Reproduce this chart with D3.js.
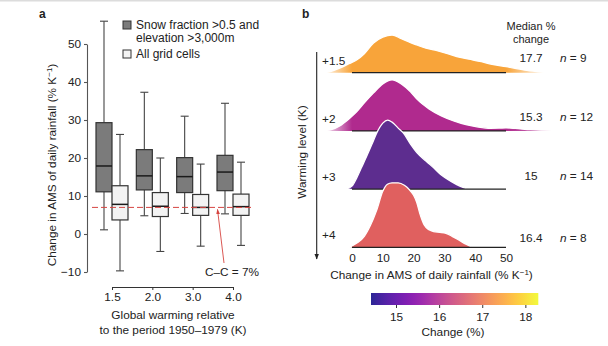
<!DOCTYPE html>
<html>
<head>
<meta charset="utf-8">
<script src="https://cdn.jsdelivr.net/npm/d3@7"></script>
<style>
  body { margin: 0; background: #fff; }
  svg { display: block; font-family: "Liberation Sans", Arial, Helvetica, sans-serif; }
</style>
</head>
<body>
<svg id="fig" width="608" height="346"></svg>
<script>
// ---------- Panel a: box plots of rainfall change per warming level ----------
const warmingLevels = ["1.5", "2.0", "3.0", "4.0"];
// [lower whisker, Q1, median, Q3, upper whisker]
const snowBoxes = [
  [1.1, 11.1, 17.9, 29.3, 56.0],
  [4.8, 11.6, 15.3, 22.2, 37.3],
  [5.4, 10.9, 15.1, 20.1, 31.0],
  [5.3, 11.4, 16.3, 20.7, 34.4]
];
const allBoxes = [
  [-9.7, 3.7, 7.8, 12.7, 26.2],
  [-4.6, 4.6, 7.3, 10.9, 20.0],
  [-3.2, 4.9, 7.0, 10.4, 18.4],
  [-3.0, 4.9, 7.2, 10.5, 18.9]
];
const yTicksA = [-10, 0, 10, 20, 30, 40, 50];
const ccRate = 7;

// ---------- Panel b: density ridges per warming level ----------
const ridgeLevels = ["+1.5", "+2", "+3", "+4"];
const ridgeMedians = ["17.7", "15.3", "15", "16.4"];
const ridgeCounts = [9, 12, 14, 8];
// [change in AMS (% K-1), density]
const density15 = [[-10,0],[-7,0.0012],[-4,0.0045],[-1,0.009],[1.5,0.0127],[4,0.019],[7,0.0297],[10,0.0355],[13,0.0377],[16,0.034],[19,0.03],[21,0.0277],[24,0.0245],[27,0.0225],[31,0.019],[34,0.016],[38,0.0135],[42,0.011],[45,0.0087],[50,0.006],[56,0.0027],[60,0.0012],[64,0]];
const density2 = [[-10,0],[-7,0.001],[-4,0.005],[-1,0.012],[1.5,0.019],[4,0.028],[7,0.038],[10,0.047],[13,0.051],[16,0.047],[19,0.039],[21,0.032],[25,0.022],[29,0.015],[33,0.01],[37,0.0062],[41,0.0038],[45,0.0026],[48,0.0028],[50,0.003],[53,0.0025],[58,0.0012],[65,0.0006],[75,0.0006],[84,0]];
const density3 = [[-2,0],[0,0.003],[1.5,0.011],[3,0.021],[4.8,0.033],[6.5,0.045],[8,0.056],[10,0.066],[11.6,0.069],[13,0.067],[15,0.061],[16.7,0.056],[19,0.045],[21.2,0.036],[24,0.028],[26.6,0.021],[29,0.014],[32,0.008],[35,0.003],[37.5,0]];
const density4 = [[-1,0],[0,0.0015],[2,0.005],[4,0.011],[6,0.022],[8,0.037],[10,0.056],[11.5,0.063],[13,0.0645],[15,0.0645],[17,0.062],[18.5,0.058],[20,0.052],[21,0.045],[22,0.034],[23.5,0.022],[25,0.0175],[26.5,0.0157],[28.5,0.015],[30.5,0.014],[32.5,0.011],[34.8,0.007],[37,0.003],[39,0]];
const ridgeDensities = [density15, density2, density3, density4];
const ridgeColors = ["#f8a43a", "#b02a8e", "#5d2d8f", "#e0605f"];
const xTicksB = [0, 10, 20, 30, 40, 50];
const colorbarDomain = [14.42, 18.3];
const colorbarTicks = [15, 16, 17, 18];

const ink = "#222";
const fs = "11.8px";
const fontFam = "Liberation Sans, Arial, sans-serif";
const svg = d3.select("#fig");
svg.append("rect").attr("width", 608).attr("height", 346).attr("fill", "#fff");
svg.append("rect").attr("width", 608).attr("height", 1.5).attr("fill", "#dcdcdc");
const defs = svg.append("defs");

function superK(textSel) {
  textSel.append("tspan").text("Change in AMS of daily rainfall (% K");
  textSel.append("tspan").attr("font-size", "8px").attr("dy", "-4").text("−1");
  textSel.append("tspan").attr("dy", "4").text(")");
}
function styleAxisText(g) {
  g.selectAll("text").attr("font-size", fs).attr("fill", ink).attr("font-family", fontFam);
}

// ===== Panel a =====
const yA = d3.scaleLinear().domain([-10, 50]).range([272, 44]);
const xA = d3.scalePoint().domain(warmingLevels).range([112, 233]);
const boxW = 16;

svg.append("text").attr("x", 39).attr("y", 18).attr("font-weight", "bold")
  .attr("font-size", "12px").attr("fill", ink).text("a");

const yAxisA = svg.append("g").attr("transform", "translate(87,0)")
  .call(d3.axisLeft(yA).tickValues(yTicksA).tickSize(3).tickSizeOuter(0)
    .tickFormat(d => d < 0 ? "−" + Math.abs(d) : d));
yAxisA.selectAll("path,line").attr("stroke", "#555").attr("stroke-width", 1.1);
styleAxisText(yAxisA);

const xAxisA = svg.append("g").attr("transform", "translate(0,287)")
  .call(d3.axisBottom(xA).tickSize(3).tickSizeOuter(0));
xAxisA.selectAll("path,line").attr("stroke", "#333").attr("stroke-width", 1);
styleAxisText(xAxisA);

svg.append("text").attr("transform", "translate(56,165) rotate(-90)")
  .attr("text-anchor", "middle").attr("font-size", fs).attr("fill", ink).call(superK);

svg.append("text").attr("x", 173).attr("y", 319).attr("text-anchor", "middle")
  .attr("font-size", fs).attr("fill", ink).text("Global warming relative");
svg.append("text").attr("x", 173).attr("y", 334).attr("text-anchor", "middle")
  .attr("font-size", fs).attr("fill", ink).text("to the period 1950–1979 (K)");

function drawBoxes(data, offset, fill, whiskerColor) {
  const g = svg.append("g");
  data.forEach((b, i) => {
    const cx = xA(warmingLevels[i]) + offset;
    const [lo, q1, med, q3, hi] = b;
    g.append("line").attr("x1", cx).attr("x2", cx).attr("y1", yA(hi)).attr("y2", yA(q3))
      .attr("stroke", whiskerColor).attr("stroke-width", 1.1);
    g.append("line").attr("x1", cx).attr("x2", cx).attr("y1", yA(q1)).attr("y2", yA(lo))
      .attr("stroke", whiskerColor).attr("stroke-width", 1.1);
    [hi, lo].forEach(v => g.append("line").attr("x1", cx - 4).attr("x2", cx + 4)
      .attr("y1", yA(v)).attr("y2", yA(v)).attr("stroke", whiskerColor).attr("stroke-width", 1.1));
    g.append("rect").attr("x", cx - boxW / 2).attr("width", boxW)
      .attr("y", yA(q3)).attr("height", yA(q1) - yA(q3))
      .attr("fill", fill).attr("stroke", "#333").attr("stroke-width", 1.2);
    g.append("line").attr("x1", cx - boxW / 2).attr("x2", cx + boxW / 2)
      .attr("y1", yA(med)).attr("y2", yA(med)).attr("stroke", "#1a1a1a").attr("stroke-width", 1.5);
  });
}
drawBoxes(snowBoxes, -boxW / 2, "#7b7b7b", "#444");
drawBoxes(allBoxes, boxW / 2, "#f3f3f3", "#444");

// Clausius–Clapeyron reference
svg.append("line").attr("x1", 92).attr("x2", 254).attr("y1", yA(ccRate)).attr("y2", yA(ccRate))
  .attr("stroke", "#d64541").attr("stroke-width", 1).attr("stroke-dasharray", "6,3");
defs.append("marker").attr("id", "redHead").attr("viewBox", "0 0 10 10")
  .attr("refX", 9).attr("refY", 5).attr("markerWidth", 6).attr("markerHeight", 6)
  .attr("orient", "auto").append("path").attr("d", "M0,1.5L10,5L0,8.5Z").attr("fill", "#d64541");
svg.append("line").attr("x1", 224).attr("y1", 263).attr("x2", 217.5).attr("y2", yA(ccRate) + 2)
  .attr("stroke", "#d64541").attr("stroke-width", 0.9).attr("marker-end", "url(#redHead)");
svg.append("text").attr("x", 232).attr("y", 275.5).attr("text-anchor", "middle")
  .attr("font-size", fs).attr("fill", ink).text("C–C = " + ccRate + "%");

// legend
const legendA = [
  { fill: "#7b7b7b", y: 21, lines: ["Snow fraction >0.5 and", "elevation >3,000m"] },
  { fill: "#f3f3f3", y: 50, lines: ["All grid cells"] }
];
legendA.forEach(d => {
  svg.append("rect").attr("x", 123).attr("y", d.y).attr("width", 8).attr("height", 8)
    .attr("fill", d.fill).attr("stroke", "#333").attr("stroke-width", 1);
  d.lines.forEach((t, k) => svg.append("text").attr("x", 136).attr("y", d.y + 8 + k * 12.7)
    .attr("font-size", "12px").attr("fill", ink).text(t));
});

// ===== Panel b =====
svg.append("text").attr("x", 302).attr("y", 18).attr("font-weight", "bold")
  .attr("font-size", "12px").attr("fill", ink).text("b");

const xB = d3.scaleLinear().domain([0, 50]).range([352, 506]);
const baseB = d3.scalePoint().domain(ridgeLevels).range([72.7, 247.3]);
const hB = d3.scaleLinear().domain([0, 0.07]).range([0, 70]);

ridgeLevels.forEach((lvl, i) => {
  const data = ridgeDensities[i];
  const base = baseB(lvl);
  const xmin = data[0][0], xmax = data[data.length - 1][0];
  // fade the tails that run outside the 0–50 axis range
  const grad = defs.append("linearGradient").attr("id", "fade" + i)
    .attr("gradientUnits", "userSpaceOnUse")
    .attr("x1", xB(xmin)).attr("x2", xB(xmax)).attr("y1", 0).attr("y2", 0);
  const off = v => (v - xmin) / (xmax - xmin);
  const stops = [[0, xmin < 0 ? 0 : 1]];
  if (xmin < 0) stops.push([off(0), 1]);
  if (xmax > 50) { stops.push([off(50), 1]); stops.push([1, 0]); }
  else stops.push([1, 1]);
  stops.forEach(s => grad.append("stop").attr("offset", s[0])
    .attr("stop-color", ridgeColors[i]).attr("stop-opacity", s[1]));

  const area = d3.area().x(d => xB(d[0])).y0(base).y1(d => base - hB(d[1]))
    .curve(d3.curveMonotoneX);
  const line = d3.line().x(d => xB(d[0])).y(d => base - hB(d[1])).curve(d3.curveMonotoneX);
  svg.append("path").datum(data).attr("d", area).attr("fill", `url(#fade${i})`);
  svg.append("path").datum(data).attr("d", line).attr("fill", "none")
    .attr("stroke", "#fff").attr("stroke-width", 1.3);
  svg.append("line").attr("x1", xB(0)).attr("x2", xB(50)).attr("y1", base).attr("y2", base)
    .attr("stroke", ink).attr("stroke-width", 1.2);

  svg.append("text").attr("x", 322).attr("y", base - 12).attr("dy", "0.35em")
    .attr("font-size", fs).attr("fill", ink).text(lvl);
});

const rowLabelY = [58.3, 116.7, 176, 238];
ridgeLevels.forEach((lvl, i) => {
  svg.append("text").attr("x", 531).attr("y", rowLabelY[i]).attr("dy", "0.35em")
    .attr("text-anchor", "middle").attr("font-size", fs).attr("fill", ink).text(ridgeMedians[i]);
  const t = svg.append("text").attr("x", 560).attr("y", rowLabelY[i]).attr("dy", "0.35em")
    .attr("font-size", fs).attr("fill", ink);
  t.append("tspan").attr("font-style", "italic").text("n");
  t.append("tspan").text(" = " + ridgeCounts[i]);
});
svg.append("text").attr("x", 531).attr("y", 29.5).attr("text-anchor", "middle")
  .attr("font-size", "11px").attr("fill", ink).text("Median %");
svg.append("text").attr("x", 531).attr("y", 42.5).attr("text-anchor", "middle")
  .attr("font-size", "11px").attr("fill", ink).text("change");

// warming-level arrow
defs.append("marker").attr("id", "blackHead").attr("viewBox", "0 0 10 10")
  .attr("refX", 9).attr("refY", 5).attr("markerWidth", 5).attr("markerHeight", 5)
  .attr("orient", "auto").append("path").attr("d", "M0,1L10,5L0,9Z").attr("fill", ink);
svg.append("line").attr("x1", 316.7).attr("x2", 316.7).attr("y1", 52).attr("y2", 259)
  .attr("stroke", ink).attr("stroke-width", 1.1).attr("marker-end", "url(#blackHead)");
svg.append("text").attr("transform", "translate(306,152) rotate(-90)")
  .attr("text-anchor", "middle").attr("font-size", fs).attr("fill", ink).text("Warming level (K)");

// x tick labels for panel b
const xAxisB = svg.append("g").attr("transform", `translate(0,${baseB("+4")})`)
  .call(d3.axisBottom(xB).tickValues(xTicksB).tickSize(0).tickPadding(6));
xAxisB.select(".domain").remove();
styleAxisText(xAxisB);
svg.append("text").attr("transform", "translate(431.5,279)")
  .attr("text-anchor", "middle").attr("font-size", fs).attr("fill", ink).call(superK);

// colour bar
const cb = d3.scaleLinear().domain(colorbarDomain).range([371, 538.3]);
const cbGrad = defs.append("linearGradient").attr("id", "plasmaBar")
  .attr("x1", "0%").attr("x2", "100%");
d3.range(0, 1.0001, 0.05).forEach(t => cbGrad.append("stop")
  .attr("offset", t).attr("stop-color", d3.interpolatePlasma(t)));
svg.append("rect").attr("x", cb.range()[0]).attr("y", 293)
  .attr("width", cb.range()[1] - cb.range()[0]).attr("height", 12)
  .attr("fill", "url(#plasmaBar)").attr("opacity", 0.88);
const cbAxis = svg.append("g").attr("transform", "translate(0,305)")
  .call(d3.axisBottom(cb).tickValues(colorbarTicks).tickFormat(d3.format("d"))
    .tickSize(3).tickPadding(5));
cbAxis.select(".domain").remove();
cbAxis.selectAll("line").attr("stroke", "#333");
styleAxisText(cbAxis);
svg.append("text").attr("x", 453).attr("y", 336).attr("text-anchor", "middle")
  .attr("font-size", fs).attr("fill", ink).text("Change (%)");
</script>
</body>
</html>
